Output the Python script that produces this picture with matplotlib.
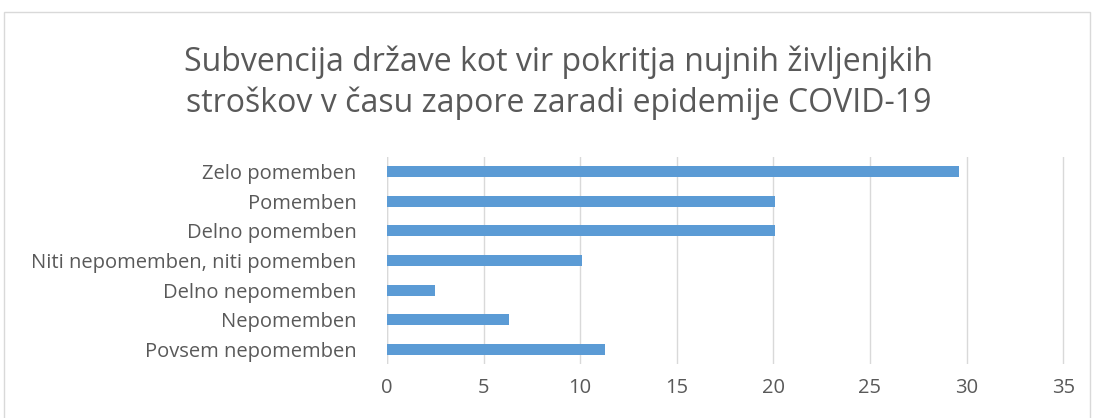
import matplotlib.pyplot as plt
from matplotlib.patches import Rectangle

categories = [
    "Zelo pomemben",
    "Pomemben",
    "Delno pomemben",
    "Niti nepomemben, niti pomemben",
    "Delno nepomemben",
    "Nepomemben",
    "Povsem nepomemben",
]
values = [29.6, 20.1, 20.1, 10.1, 2.5, 6.3, 11.3]
title = "Subvencija države kot vir pokritja nujnih življenjkih\nstroškov v času zapore zaradi epidemije COVID-19"

plt.rcParams["font.family"] = ["Open Sans", "DejaVu Sans"]
grey = "#595959"

fig = plt.figure(figsize=(10.94, 4.18), dpi=100)
fig.patches.append(Rectangle((4 / 1094, -0.05), 1086 / 1094, 1 - 12 / 418 + 0.05,
                             transform=fig.transFigure, fill=False,
                             edgecolor="#D9D9D9", linewidth=1))

ax = fig.add_axes([387 / 1094, 54 / 418, 680 / 1094, 207 / 418])
pos = list(range(len(categories)))[::-1]
ax.barh(pos, values, height=0.37, color="#5B9BD5", zorder=3)
ax.set_yticks(pos)
ax.set_yticklabels(categories)
ax.set_ylim(-0.5, len(categories) - 0.5)
ax.set_xlim(0, 35.2)
ax.set_xticks(range(0, 36, 5))
ax.grid(axis="x", color="#D9D9D9", linewidth=1, zorder=0)
for s in ax.spines.values():
    s.set_visible(False)
ax.axvline(0, color="#D9D9D9", linewidth=1, zorder=1)
ax.tick_params(length=0, labelsize=14.5, colors=grey)
ax.tick_params(axis="x", pad=10)
ax.tick_params(axis="y", pad=22)

fig.text(559 / 1094, 1 - 83 / 418, title, ha="center", va="center",
         fontsize=23, color=grey, linespacing=1.3)

fig.savefig("out.png", dpi=100)
